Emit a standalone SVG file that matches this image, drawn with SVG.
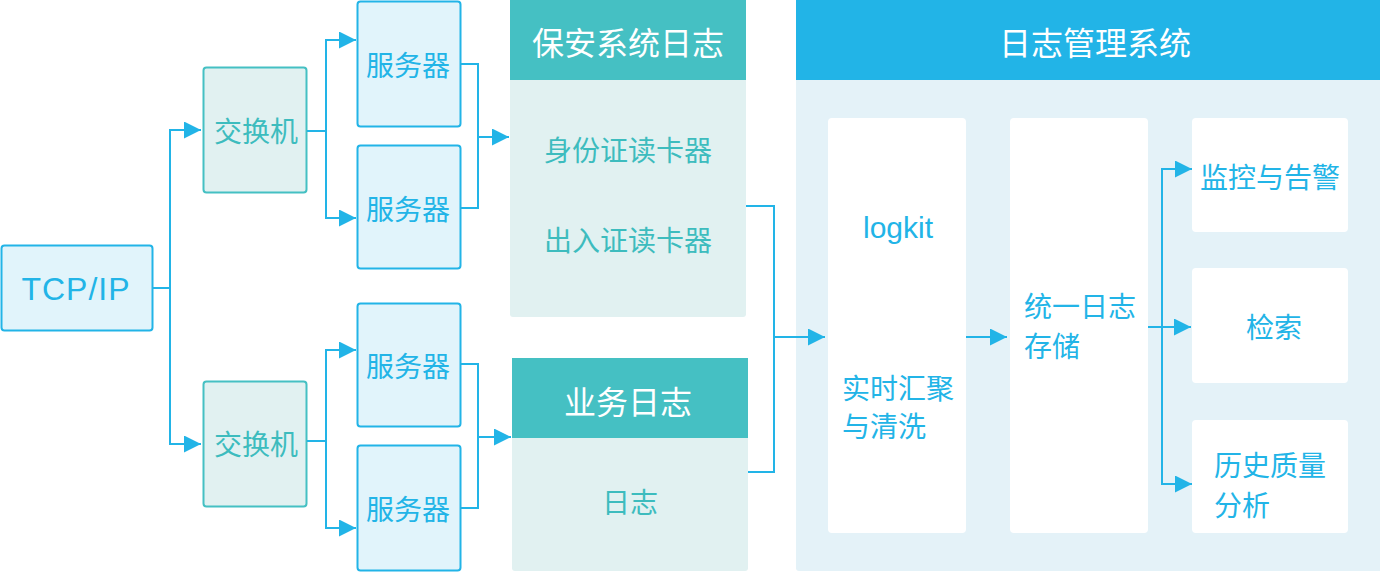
<svg xmlns="http://www.w3.org/2000/svg" width="1380" height="572" viewBox="0 0 1380 572">
<defs>
<style>
.cj{font-family:"Noto Sans CJK SC","Noto Sans",sans-serif;}
.lt{font-family:"Liberation Sans","Noto Sans",sans-serif;}
.blue{fill:#22b4e7;}
.teal{fill:#3dbcbe;}
.white{fill:#ffffff;}
.b{font-size:28px;}
.h{font-size:32px;}
.srv{fill:#e1f4fb;stroke:#22b4e7;stroke-width:2;}
.sw{fill:#e1f1f1;stroke:#45c0c3;stroke-width:2;}
.conn{fill:none;stroke:#22b4e7;stroke-width:2;}
</style>
<marker id="ah" markerUnits="userSpaceOnUse" markerWidth="17" markerHeight="17" refX="17" refY="8.5" orient="auto">
<path d="M0,0 L17,8.5 L0,17 z" fill="#22b4e7"/>
</marker>
</defs>
<rect width="1380" height="572" fill="#ffffff"/>

<g id="tcpip">
<rect class="srv" x="1.5" y="245.5" width="151" height="85" rx="3"/>
<text class="lt blue" x="76" y="288.5" font-size="32" letter-spacing="1" text-anchor="middle" dominant-baseline="central">TCP/IP</text>
</g>

<g id="switch1">
<rect class="sw" x="203.5" y="67.5" width="103" height="125" rx="3"/>
<text class="cj teal b" x="256" y="130" text-anchor="middle" dominant-baseline="central">交换机</text>
</g>
<g id="switch2">
<rect class="sw" x="203.5" y="381.5" width="103" height="125" rx="3"/>
<text class="cj teal b" x="256" y="443" text-anchor="middle" dominant-baseline="central">交换机</text>
</g>

<g id="server1">
<rect class="srv" x="357.5" y="1.5" width="103" height="125" rx="3"/>
<text class="cj blue b" x="408" y="64" text-anchor="middle" dominant-baseline="central">服务器</text>
</g>
<g id="server2">
<rect class="srv" x="357.5" y="145.5" width="103" height="123" rx="3"/>
<text class="cj blue b" x="408" y="208" text-anchor="middle" dominant-baseline="central">服务器</text>
</g>
<g id="server3">
<rect class="srv" x="357.5" y="303.5" width="103" height="123" rx="3"/>
<text class="cj blue b" x="408" y="365" text-anchor="middle" dominant-baseline="central">服务器</text>
</g>
<g id="server4">
<rect class="srv" x="357.5" y="445.5" width="103" height="125" rx="3"/>
<text class="cj blue b" x="408" y="508" text-anchor="middle" dominant-baseline="central">服务器</text>
</g>

<g id="security-log">
<path d="M510,80 H746 V314 a3,3 0 0 1 -3,3 H513 a3,3 0 0 1 -3,-3 Z" fill="#e1f1f1"/>
<rect x="510" y="0" width="236" height="80" fill="#45c0c3"/>
<text class="cj white h" x="628" y="41" text-anchor="middle" dominant-baseline="central">保安系统日志</text>
<text class="cj teal b" x="628" y="149" text-anchor="middle" dominant-baseline="central">身份证读卡器</text>
<text class="cj teal b" x="628" y="239" text-anchor="middle" dominant-baseline="central">出入证读卡器</text>
</g>

<g id="business-log">
<path d="M512,438 H748 V568 a3,3 0 0 1 -3,3 H515 a3,3 0 0 1 -3,-3 Z" fill="#e1f1f1"/>
<rect x="512" y="358" width="236" height="80" fill="#45c0c3"/>
<text class="cj white h" x="628" y="400" text-anchor="middle" dominant-baseline="central">业务日志</text>
<text class="cj teal b" x="630" y="501" text-anchor="middle" dominant-baseline="central">日志</text>
</g>

<g id="log-management">
<path d="M796,80 H1380 V571 H799 a3,3 0 0 1 -3,-3 Z" fill="#e4f2f8"/>
<rect x="796" y="0" width="584" height="80" fill="#22b4e7"/>
<text class="cj white h" x="1095" y="41" text-anchor="middle" dominant-baseline="central">日志管理系统</text>
</g>

<g id="logkit">
<rect x="828" y="118" width="138" height="415" rx="4" fill="#ffffff"/>
<text class="lt blue" x="898" y="238" font-size="30" text-anchor="middle">logkit</text>
<text class="cj blue b" x="842" y="387" dominant-baseline="central">实时汇聚</text>
<text class="cj blue b" x="842" y="425" dominant-baseline="central">与清洗</text>
</g>

<g id="storage">
<rect x="1010" y="118" width="138" height="415" rx="4" fill="#ffffff"/>
<text class="cj blue b" x="1024" y="305" dominant-baseline="central">统一日志</text>
<text class="cj blue b" x="1024" y="345" dominant-baseline="central">存储</text>
</g>

<g id="monitor">
<rect x="1192" y="118" width="156" height="114" rx="4" fill="#ffffff"/>
<text class="cj blue b" x="1270" y="176" text-anchor="middle" dominant-baseline="central">监控与告警</text>
</g>
<g id="search">
<rect x="1192" y="268" width="156" height="115" rx="4" fill="#ffffff"/>
<text class="cj blue b" x="1274" y="326" text-anchor="middle" dominant-baseline="central">检索</text>
</g>
<g id="history">
<rect x="1192" y="420" width="156" height="113" rx="4" fill="#ffffff"/>
<text class="cj blue b" x="1214" y="464" dominant-baseline="central">历史质量</text>
<text class="cj blue b" x="1214" y="504" dominant-baseline="central">分析</text>
</g>

<g id="connectors">
<path class="conn" d="M153,288 H170"/>
<path class="conn" d="M170,444 V130 H201" marker-end="url(#ah)"/>
<path class="conn" d="M170,288 V444 H201" marker-end="url(#ah)"/>

<path class="conn" d="M307,131 H326"/>
<path class="conn" d="M326,131 V40 H356" marker-end="url(#ah)"/>
<path class="conn" d="M326,131 V218 H356" marker-end="url(#ah)"/>
<path class="conn" d="M307,441 H326"/>
<path class="conn" d="M326,441 V350 H356" marker-end="url(#ah)"/>
<path class="conn" d="M326,441 V528 H356" marker-end="url(#ah)"/>

<path class="conn" d="M461,64 H478 V208 H461"/>
<path class="conn" d="M478,137 H509" marker-end="url(#ah)"/>
<path class="conn" d="M461,364 H478 V508 H461"/>
<path class="conn" d="M478,437 H511" marker-end="url(#ah)"/>

<path class="conn" d="M746,206 H774 V472 H748"/>
<path class="conn" d="M774,337 H825" marker-end="url(#ah)"/>

<path class="conn" d="M966,337 H1007" marker-end="url(#ah)"/>

<path class="conn" d="M1148,327 H1191" marker-end="url(#ah)"/>
<path class="conn" d="M1162,327 V169 H1192" marker-end="url(#ah)"/>
<path class="conn" d="M1162,327 V484 H1192" marker-end="url(#ah)"/>
</g>
</svg>
